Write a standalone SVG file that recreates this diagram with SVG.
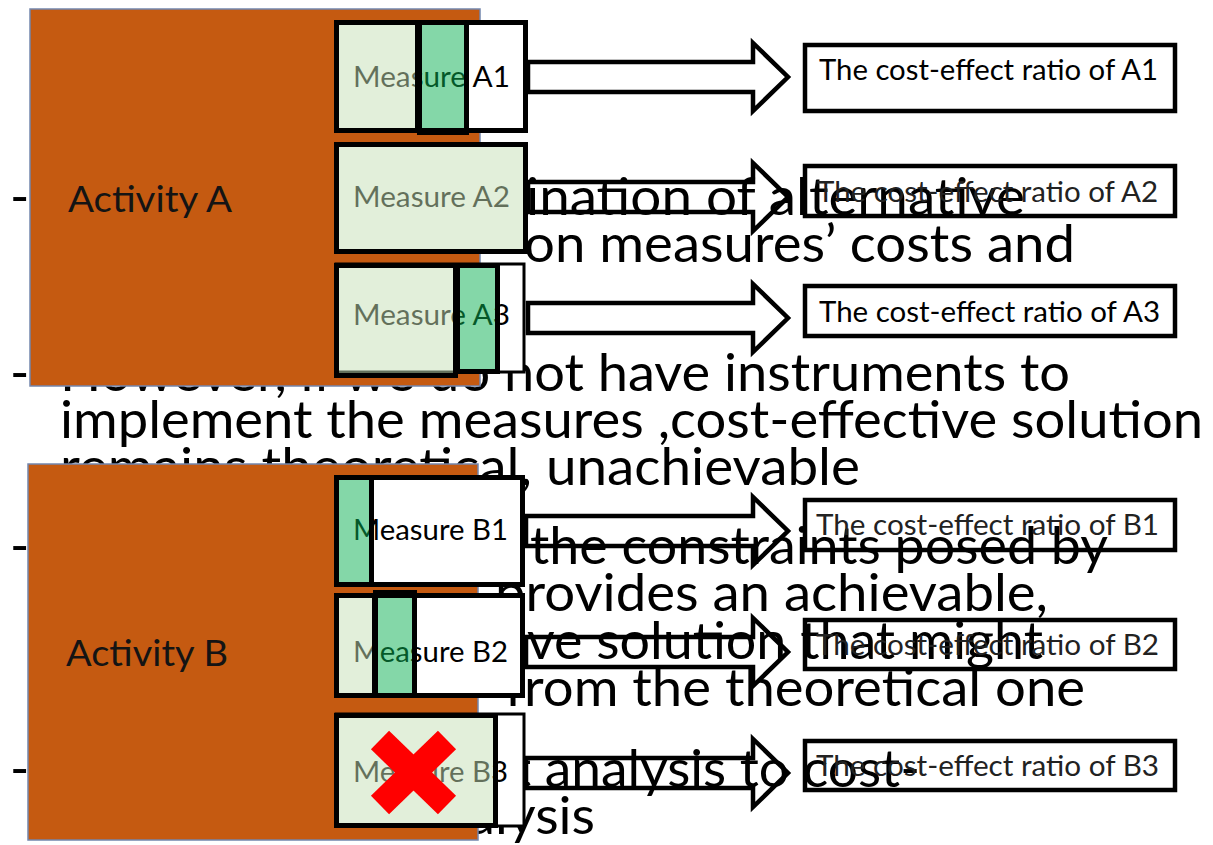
<svg xmlns="http://www.w3.org/2000/svg" width="1213" height="845" viewBox="0 0 1213 845">
<style>
.b{font-family:Lato,"Liberation Sans",sans-serif;font-size:52px;fill:#000}
.act{fill:#c55a11;stroke:#7386ad;stroke-width:1.5}
.actt{font-family:Lato,"Liberation Sans",sans-serif;font-size:36px;fill:#141414}
.mt{font-family:Lato,"Liberation Sans",sans-serif;font-size:29px;fill:#000}
.rt{font-family:Lato,"Liberation Sans",sans-serif;font-size:29px;fill:#222}
.wh{fill:#fff}
.lt{fill:#c5dfb5;fill-opacity:.5;stroke:#000;stroke-width:5}
.dk{fill:#09af51;fill-opacity:.5;stroke:#000;stroke-width:5}
.ob{fill:none;stroke:#000;stroke-width:5}
.thin{fill:none;stroke:#000;stroke-width:3}
.arr{fill:none;stroke:#000;stroke-width:4.5;stroke-linejoin:miter}
.res{fill:none;stroke:#000;stroke-width:4.5}
.x{stroke:#ff0000;stroke-width:26;stroke-linecap:butt}
</style>
<rect width="1213" height="845" fill="#fff"/>
<g id="bullets">
<text class="b" x="10" y="215">-</text>
<text class="b" x="526" y="215" textLength="499" lengthAdjust="spacingAndGlyphs">ination of alternative</text>
<text class="b" x="524" y="262" textLength="551" lengthAdjust="spacingAndGlyphs">on measures’ costs and</text>
<text class="b" x="10" y="391">-</text>
<text class="b" x="60" y="391" textLength="1010" lengthAdjust="spacingAndGlyphs">However, if we do not have instruments to</text>
<text class="b" x="60" y="438" textLength="1143" lengthAdjust="spacingAndGlyphs">implement the measures ,cost-effective solution</text>
<text class="b" x="60" y="485" textLength="800" lengthAdjust="spacingAndGlyphs">remains theoretical, unachievable</text>
<text class="b" x="10" y="564">-</text>
<text class="b" x="530" y="564" textLength="578" lengthAdjust="spacingAndGlyphs">the constraints posed by</text>
<text class="b" x="495" y="611" textLength="553" lengthAdjust="spacingAndGlyphs">provides an achievable,</text>
<text class="b" x="527" y="659" textLength="516" lengthAdjust="spacingAndGlyphs">ve solution that might</text>
<text class="b" x="505" y="706" textLength="580" lengthAdjust="spacingAndGlyphs">from the theoretical one</text>
<text class="b" x="10" y="787">-</text>
<text class="b" x="512" y="787" textLength="408" lengthAdjust="spacingAndGlyphs">t analysis to cost-</text>
<text class="b" x="411" y="834" textLength="184" lengthAdjust="spacingAndGlyphs">analysis</text>
</g>
<g id="activityA">
<rect class="act" x="30" y="9" width="450" height="377"/>
<text class="actt" x="68" y="212" textLength="164" lengthAdjust="spacingAndGlyphs">Activity A</text>
</g>
<g id="activityB">
<rect class="act" x="28" y="464" width="450" height="376"/>
<text class="actt" x="66" y="666" textLength="162" lengthAdjust="spacingAndGlyphs">Activity B</text>
</g>
<g id="measureA1">
<rect class="wh" x="336.5" y="22.5" width="189" height="108"/>
<text class="mt" x="353" y="87" textLength="157" lengthAdjust="spacingAndGlyphs">Measure A1</text>
<rect class="lt" x="336.5" y="22.5" width="81" height="108"/>
<rect class="dk" x="419.5" y="22.5" width="47" height="110"/>
<rect class="ob" x="336.5" y="22.5" width="189" height="108"/>
</g>
<g id="measureA2">
<rect class="wh" x="336.5" y="144.5" width="189" height="107"/>
<text class="mt" x="353" y="207" textLength="157" lengthAdjust="spacingAndGlyphs">Measure A2</text>
<rect class="lt" x="336.5" y="144.5" width="189" height="107"/>
</g>
<g id="measureA3">
<rect class="wh" x="336" y="264" width="188" height="108"/>
<text class="mt" x="353" y="325" textLength="157" lengthAdjust="spacingAndGlyphs">Measure A3</text>
<rect class="thin" x="336" y="264" width="188" height="108"/>
<rect class="dk" x="457.5" y="265.5" width="40" height="106"/>
<rect class="lt" x="336.5" y="265.5" width="119" height="110"/>
</g>
<g id="measureB1">
<rect class="wh" x="336.5" y="477.5" width="186" height="107"/>
<text class="mt" x="353" y="540" textLength="155" lengthAdjust="spacingAndGlyphs">Measure B1</text>
<rect class="dk" x="336.5" y="477.5" width="35" height="107"/>
<rect class="ob" x="336.5" y="477.5" width="186" height="107"/>
</g>
<g id="measureB2">
<rect class="wh" x="336.5" y="595.5" width="186" height="100"/>
<text class="mt" x="353" y="662" textLength="155" lengthAdjust="spacingAndGlyphs">Measure B2</text>
<rect class="lt" x="336.5" y="595.5" width="38" height="100"/>
<rect class="dk" x="375.5" y="592.5" width="39" height="103"/>
<rect class="ob" x="336.5" y="595.5" width="186" height="100"/>
</g>
<g id="measureB3">
<rect class="wh" x="336" y="714" width="188" height="112"/>
<text class="mt" x="353" y="782" textLength="155" lengthAdjust="spacingAndGlyphs">Measure B3</text>
<rect class="thin" x="336" y="714" width="188" height="112"/>
<rect class="lt" x="336.5" y="715.5" width="159" height="110"/>
<line class="x" x1="380" y1="740" x2="447" y2="805"/>
<line class="x" x1="447" y1="740" x2="380" y2="805"/>
</g>
<g id="connectors">
<polygon class="arr" points="528,62 753,62 753,43 788,77 753,111 753,92 528,92"/>
<polygon class="arr" points="528,182 753,182 753,163 788,197 753,231 753,212 528,212"/>
<polygon class="arr" points="528,303 753,303 753,284 788,318 753,352 753,333 528,333"/>
<polygon class="arr" points="526,516 753,516 753,497 788,531 753,565 753,546 526,546"/>
<polygon class="arr" points="526,637 753,637 753,618 788,652 753,686 753,667 526,667"/>
<polygon class="arr" points="526,758 753,758 753,739 788,773 753,807 753,788 526,788"/>
</g>
<g id="resultA1">
<rect class="res" x="805" y="45" width="370" height="66"/>
<text class="mt" x="819" y="80" textLength="339" lengthAdjust="spacingAndGlyphs">The cost-effect ratio of A1</text>
</g>
<g id="resultA2">
<rect class="res" x="805" y="166" width="370" height="50"/>
<text class="rt" x="817" y="202" textLength="341" lengthAdjust="spacingAndGlyphs">The cost-effect ratio of A2</text>
</g>
<g id="resultA3">
<rect class="res" x="805" y="286" width="370" height="50"/>
<text class="mt" x="819" y="322" textLength="341" lengthAdjust="spacingAndGlyphs">The cost-effect ratio of A3</text>
</g>
<g id="resultB1">
<rect class="res" x="805" y="500" width="370" height="50"/>
<text class="rt" x="816" y="535" textLength="343" lengthAdjust="spacingAndGlyphs">The cost-effect ratio of B1</text>
</g>
<g id="resultB2">
<rect class="res" x="805" y="620" width="370" height="49"/>
<text class="rt" x="816" y="655" textLength="343" lengthAdjust="spacingAndGlyphs">The cost-effect ratio of B2</text>
</g>
<g id="resultB3">
<rect class="res" x="805" y="741" width="370" height="49"/>
<text class="rt" x="816" y="776" textLength="343" lengthAdjust="spacingAndGlyphs">The cost-effect ratio of B3</text>
</g>
</svg>
